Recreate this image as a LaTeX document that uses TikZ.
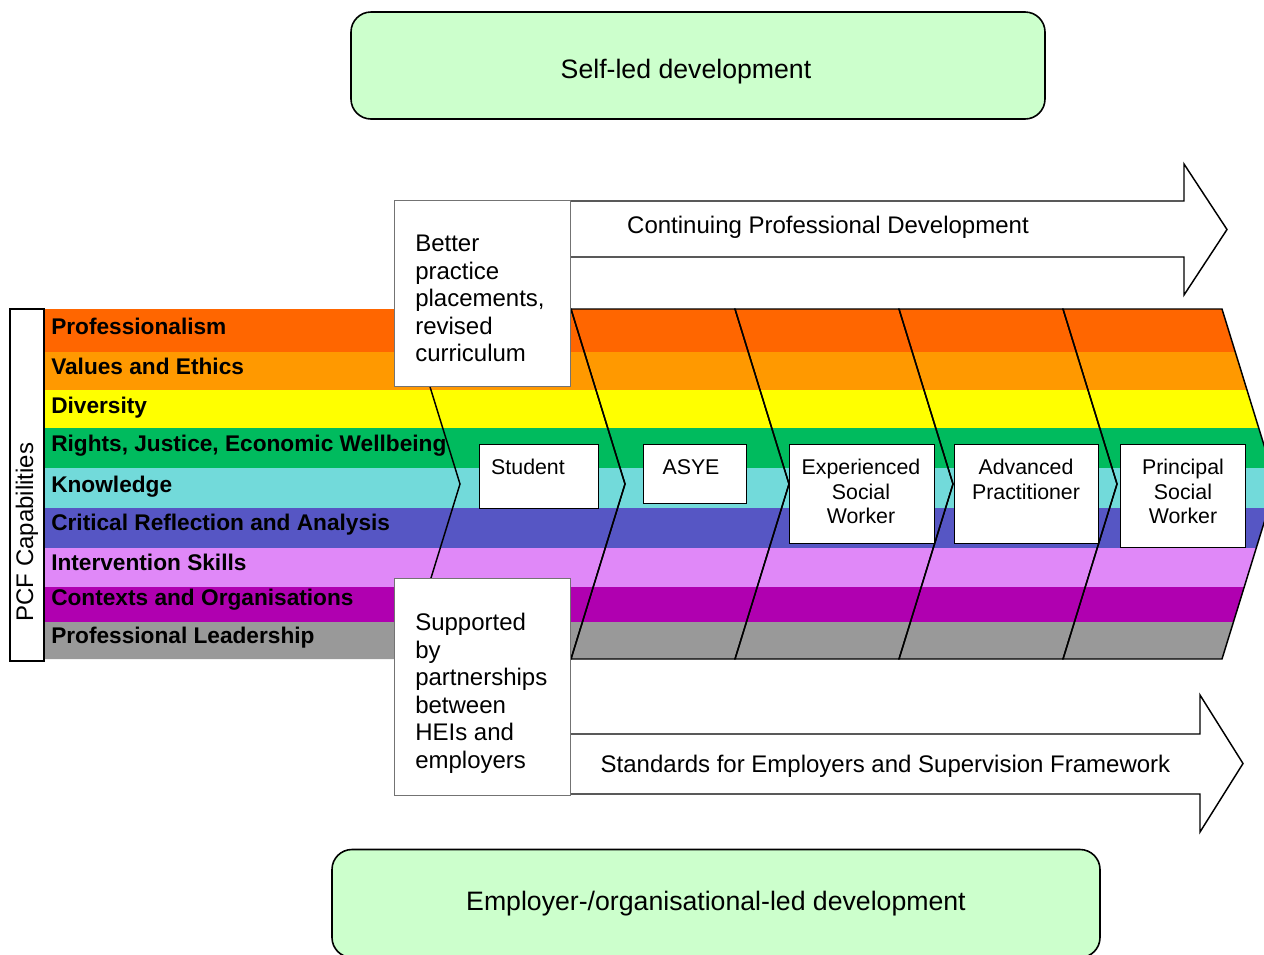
\documentclass[tikz,border=0pt]{standalone}
\usepackage{fontspec}
\setmainfont{Liberation Sans}
\usetikzlibrary{calc}
\definecolor{cA}{HTML}{FF6600}
\definecolor{cB}{HTML}{FF9900}
\definecolor{cC}{HTML}{FFFF00}
\definecolor{cD}{HTML}{00BB5E}
\definecolor{cE}{HTML}{72DADA}
\definecolor{cF}{HTML}{5656C4}
\definecolor{cG}{HTML}{E088F8}
\definecolor{cH}{HTML}{B000B0}
\definecolor{cI}{HTML}{999999}
\definecolor{paleg}{HTML}{CCFFCC}
\tikzset{
  greenbox/.style={draw=black, line width=1.2pt, fill=paleg, rounded corners=15pt, inner sep=0pt},
  bigtext/.style={font=\fontsize{20}{24}\selectfont},
  midtext/.style={font=\fontsize{18}{20.6}\selectfont},
  bandlabel/.style={font=\fontsize{17}{20}\selectfont\bfseries, anchor=base west, inner sep=0pt},
  stagebox/.style={draw=black, line width=1.1pt, fill=white, inner sep=0pt, anchor=north west},
  stagetext/.style={font=\fontsize{16}{18.4}\selectfont, align=center, anchor=north, inner sep=0pt},
  notebox/.style={draw=black!55, line width=0.5pt, fill=white, inner sep=0pt, anchor=north west},
  notetext/.style={font=\fontsize{18}{20.6}\selectfont, align=left, anchor=north west, inner sep=0pt},
  chev/.style={draw=black, line width=1.1pt},
  bigarrow/.style={draw=black, line width=1.1pt, fill=white, line join=miter},
}
\begin{document}
\begin{tikzpicture}[x=0.75pt,y=-0.75pt]
\clip (0,0) rectangle (1264,954);
\fill[white] (0,0) rectangle (1264,954);

% coloured capability stripes
\begin{scope}
  \clip (44,309) -- (1222,309) -- (1276,484) -- (1222,659) -- (44,659) -- cycle;
  \fill[cA] (40,309) rectangle (1290,352);
  \fill[cB] (40,352) rectangle (1290,390);
  \fill[cC] (40,390) rectangle (1290,428);
  \fill[cD] (40,428) rectangle (1290,468);
  \fill[cE] (40,468) rectangle (1290,508);
  \fill[cF] (40,508) rectangle (1290,548);
  \fill[cG] (40,548) rectangle (1290,587);
  \fill[cH] (40,587) rectangle (1290,622);
  \fill[cI] (40,622) rectangle (1290,660);
\end{scope}

% chevron stages
\foreach \a/\b in {406/571, 571/735, 735/899, 899/1063, 1063/1222}{
  \draw[chev] (\a,309) -- (\b,309) -- (\b+54,484) -- (\b,659) -- (\a,659) -- (\a+54,484) -- cycle;
}

% band labels
\node[bandlabel] (l1) at (51,334) {Professionalism};
\node[bandlabel] (l2) at (51,374) {Values and Ethics};
\node[bandlabel] (l3) at (51,413) {Diversity};
\node[bandlabel] (l4) at (51,451) {Rights, Justice, Economic Wellbeing};
\node[bandlabel] (l5) at (51,492) {Knowledge};
\node[bandlabel] (l6) at (51,530) {Critical Reflection and Analysis};
\node[bandlabel] (l7) at (51,570) {Intervention Skills};
\node[bandlabel] (l8) at (51,605) {Contexts and Organisations};
\node[bandlabel] (l9) at (51,643) {Professional Leadership};

% stage boxes
\node[stagebox, minimum width=119*0.75pt, minimum height=64*0.75pt] (s1) at (479,444) {};
\node[stagetext] (t1) at (528,459) {Student};
\node[stagebox, minimum width=103*0.75pt, minimum height=59*0.75pt] (s2) at (643,444) {};
\node[stagetext] (t2) at (691,459) {ASYE};
\node[stagebox, minimum width=145*0.75pt, minimum height=99*0.75pt] (s3) at (789,444) {};
\node[stagetext] (t3) at (861,459) {Experienced\\Social\\Worker};
\node[stagebox, minimum width=144*0.75pt, minimum height=99*0.75pt] (s4) at (954,444) {};
\node[stagetext] (t4) at (1026,459) {Advanced\\Practitioner};
\node[stagebox, minimum width=125*0.75pt, minimum height=103*0.75pt] (s5) at (1120,444) {};
\node[stagetext] (t5) at (1183,459) {Principal\\Social\\Worker};

% big arrows
\draw[bigarrow] (570,201) -- (1184,201) -- (1184,164) -- (1227,229.5) -- (1184,295) -- (1184,257) -- (570,257) -- cycle;
\node[midtext] (cpd) at (828,227) {Continuing Professional Development};
\draw[bigarrow] (570,734) -- (1200,734) -- (1200,695) -- (1243,763.5) -- (1200,832) -- (1200,794) -- (570,794) -- cycle;
\node[midtext] (std) at (885.5,766) {Standards for Employers and Supervision Framework};

% note boxes
\node[notebox, minimum width=176*0.75pt, minimum height=186*0.75pt] (nb1) at (394,200) {};
\node[notetext] (nt1) at (415,235) {Better\\practice\\placements,\\revised\\curriculum};
\node[notebox, minimum width=176*0.75pt, minimum height=217*0.75pt] (nb2) at (394,578) {};
\node[notetext] (nt2) at (415,613) {Supported\\by\\partnerships\\between\\HEIs and\\employers};

% green boxes
\node[greenbox, minimum width=694*0.75pt, minimum height=107*0.75pt] (self) at (698,65.5) {};
\node[bigtext] (selft) at (686,71.5) {Self-led development};
\node[greenbox, bigtext, minimum width=768*0.75pt, minimum height=108*0.75pt] (emp) at (716,903.5) {Employer-/organisational-led development};

% PCF capabilities side box
\node[draw=black, line width=1.1pt, fill=white, minimum width=34*0.75pt, minimum height=352*0.75pt, inner sep=0pt] (pcf) at (27,485) {};
\node[midtext, rotate=90, inner sep=0pt] (pcft) at (27,532) {PCF Capabilities};
\end{tikzpicture}
\end{document}
